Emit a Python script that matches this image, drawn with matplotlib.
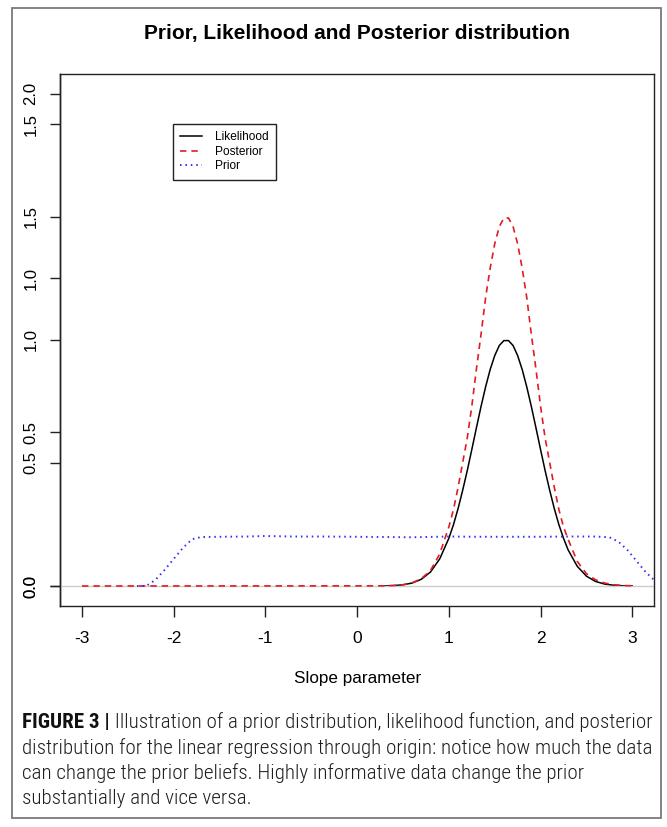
import matplotlib
matplotlib.use("Agg")
import matplotlib.pyplot as plt
from matplotlib import font_manager
from matplotlib.patches import Rectangle
from matplotlib.ticker import FormatStrFormatter

# ---------------- data ----------------
lik_x = [0.3, 0.4, 0.5, 0.6, 0.7, 0.8, 0.9, 1.0,
         1.05, 1.1, 1.15, 1.2, 1.25, 1.3, 1.35, 1.4, 1.45, 1.5, 1.55, 1.6, 1.65,
         1.7, 1.75, 1.8, 1.85, 1.9, 1.95, 2.0, 2.05, 2.1, 2.15, 2.2, 2.25, 2.3,
         2.4, 2.5, 2.6, 2.7, 2.8, 2.9, 3.0]
likelihood = [0.0006, 0.0018, 0.0049, 0.0121, 0.0275, 0.057, 0.110, 0.194,
              0.249, 0.314, 0.388, 0.468, 0.554, 0.642, 0.728, 0.808, 0.879, 0.936, 0.977, 0.997, 0.997,
              0.977, 0.936, 0.879, 0.808, 0.728, 0.642, 0.554, 0.468, 0.388, 0.314, 0.249, 0.194, 0.147,
              0.080, 0.040, 0.0184, 0.0078, 0.0030, 0.0011, 0.0004]

post_x = [-3.0, 0.3, 0.4, 0.5, 0.6, 0.7, 0.8, 0.9, 1.0,
          1.05, 1.1, 1.15, 1.2, 1.25, 1.3, 1.35, 1.4, 1.45, 1.5, 1.55, 1.6, 1.65,
          1.7, 1.75, 1.8, 1.85, 1.9, 1.95, 2.0, 2.05, 2.1, 2.15, 2.2, 2.25, 2.3,
          2.4, 2.5, 2.6, 2.7, 2.8, 2.9, 3.0]
posterior = [0.0, 0.0007, 0.002, 0.005, 0.013, 0.030, 0.063, 0.13, 0.24,
             0.31, 0.40, 0.50, 0.60, 0.73, 0.88, 1.02, 1.17, 1.29, 1.39, 1.46, 1.495, 1.495,
             1.46, 1.39, 1.29, 1.17, 1.02, 0.88, 0.73, 0.60, 0.50, 0.40, 0.31, 0.24, 0.19,
             0.10, 0.05, 0.025, 0.012, 0.005, 0.002, 0.001]

prior_x = [-2.4, -2.3, -2.2, -2.1, -2.0, -1.9, -1.8, -1.7, -1.5, -1.2, -1.0, -0.7,
           -0.4, 0.0, 0.3, 0.6, 1.0, 1.3, 1.6, 2.0, 2.3, 2.6, 2.75, 2.85, 2.95,
           3.05, 3.15, 3.25, 3.35]
prior = [0.0, 0.0, 0.025, 0.065, 0.11, 0.155, 0.19, 0.199, 0.200, 0.201, 0.203, 0.201,
         0.201, 0.200, 0.199, 0.198, 0.201, 0.200, 0.200, 0.200, 0.201, 0.201, 0.198, 0.18, 0.145,
         0.10, 0.055, 0.02, 0.005]

series_labels = ["Likelihood", "Posterior", "Prior"]
x_ticks = [-3, -2, -1, 0, 1, 2, 3]
y_ticks_a = [0.0, 0.5, 1.0, 1.5, 2.0]      # first overlaid y axis
y_ticks_b = [0.0, 0.5, 1.0, 1.5]           # second overlaid y axis
b_scale = 1.25                              # axis-b unit in axis-a units

title = "Prior, Likelihood and Posterior distribution"
xlabel = "Slope parameter"
caption_bold = "FIGURE 3 |"
caption_lines = [
    " Illustration of a prior distribution, likelihood function, and posterior",
    "distribution for the linear regression through origin: notice how much the data",
    "can change the prior beliefs. Highly informative data change the prior",
    "substantially and vice versa.",
]

# ---------------- figure ----------------
plt.rcParams["font.family"] = ["Liberation Sans", "DejaVu Sans"]
plt.rcParams["lines.scale_dashes"] = False

W, H = 667, 827
fig = plt.figure(figsize=(W / 100, H / 100), dpi=100)

def pick_font(cands):
    for c in cands:
        try:
            font_manager.findfont(font_manager.FontProperties(family=c), fallback_to_default=False)
            return c
        except Exception:
            pass
    return "Liberation Sans"

cap_family = pick_font(["Roboto Condensed", "Liberation Sans Narrow", "Open Sans Condensed", "Roboto"])
cap_weight = 300

# outer frame
fig.patches.append(Rectangle((12 / W, 1 - 818 / H), 649 / W, 810 / H, transform=fig.transFigure,
                             fill=False, edgecolor="#7a7a7a", lw=1.3))

ax = fig.add_axes([60 / W, 1 - 605.7 / H, (654.3 - 60) / W, (605.7 - 74) / H])
ax.set_xlim(-3.24, 3.24)
ax.set_ylim(-0.08, 2.08)

ax.plot(lik_x, likelihood, color="black", lw=1.1, zorder=2, label=series_labels[0])
ax.axhline(0, color="#cdcdcd", lw=1.0, zorder=2.5)
ax.plot(post_x, posterior, color="#e41a22", lw=1.2, dashes=(4.6, 3.6), zorder=3, label=series_labels[1])
ax.plot(prior_x, prior, color="#3030f0", lw=1.4, dashes=(1.1, 2.8), zorder=4, label=series_labels[2])

for s in ax.spines.values():
    s.set_linewidth(1.0)
    s.set_color("#222222")

ax.set_xticks(x_ticks)
ax.set_xticklabels([str(t) for t in x_ticks])
ax.tick_params(axis="x", direction="out", length=8, width=1.0, labelsize=12.5, pad=10, color="#222222")
ax.set_yticks(y_ticks_a)
ax.yaxis.set_major_formatter(FormatStrFormatter("%.1f"))
ax.tick_params(axis="y", direction="out", length=7.5, width=1.0, labelsize=12, pad=8,
               labelrotation=90, color="#222222")
for lab in ax.get_yticklabels():
    lab.set_va("center")

sec = ax.secondary_yaxis("left", functions=(lambda a: a / b_scale, lambda b: b * b_scale))
sec.set_yticks(y_ticks_b)
sec.yaxis.set_major_formatter(FormatStrFormatter("%.1f"))
sec.tick_params(axis="y", direction="out", length=7.5, width=1.0, labelsize=12, pad=8,
                labelrotation=90, color="#222222")
sec.spines["left"].set_linewidth(1.0)
for lab in sec.get_yticklabels():
    lab.set_va("center")

ax.set_xlabel(xlabel, fontsize=12.3)
ax.xaxis.set_label_coords(0.5, (605.7 - 678) / (605.7 - 74))
ax.xaxis.label.set_va("center")

leg = ax.legend(loc="upper left", bbox_to_anchor=(173 / W, 1 - 124 / H), bbox_transform=fig.transFigure,
                fontsize=8.6, frameon=True, fancybox=False, edgecolor="#222222", framealpha=1,
                borderaxespad=0, handlelength=1.8, handletextpad=1.1, labelspacing=0.22, borderpad=0.6)
leg.get_frame().set_linewidth(1.0)

fig.text(357 / W, 1 - 33 / H, title, fontsize=15, fontweight="bold", ha="center", va="center")

# ---------------- caption ----------------
renderer = fig.canvas.get_renderer()

def twidth(s, size, weight):
    t = fig.text(0, 0, s, fontsize=size, fontweight=weight, family=cap_family)
    w = t.get_window_extent(renderer).width
    t.remove()
    return w

base = 10.0
total = twidth(caption_bold, base, "bold") + twidth(caption_lines[0], base, cap_weight)
cap_size = base * 627 / total
wb = twidth(caption_bold, cap_size, "bold")

x0 = 22
baselines = [728, 754, 779, 804]
fig.text(x0 / W, 1 - baselines[0] / H, caption_bold, fontsize=cap_size, fontweight="bold",
         family=cap_family, ha="left", va="baseline", color="#111111")
fig.text((x0 + wb) / W, 1 - baselines[0] / H, caption_lines[0], fontsize=cap_size, fontweight=cap_weight,
         family=cap_family, ha="left", va="baseline", color="#1e1e1e")
for line, b in zip(caption_lines[1:], baselines[1:]):
    fig.text(x0 / W, 1 - b / H, line, fontsize=cap_size, fontweight=cap_weight, family=cap_family,
             ha="left", va="baseline", color="#1e1e1e")

fig.savefig("out.png", dpi=100)
